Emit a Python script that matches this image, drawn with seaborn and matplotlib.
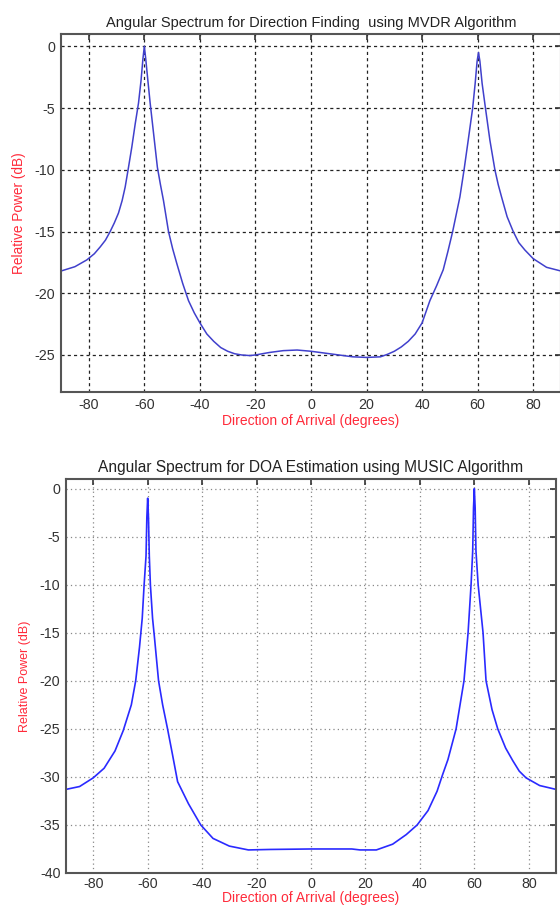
import matplotlib
matplotlib.use("Agg")
import matplotlib.pyplot as plt
import seaborn as sns
import pandas as pd

# ---- data: MVDR angular spectrum (top) ----
mvdr_angle = [-90, -85, -80.7, -78, -75.9, -74, -72.3, -70.8, -69.3, -68, -66.9, -65.7,
              -64.5, -63.3, -62.1, -61.2, -60.5, -60, -59.5, -58.8, -57.9, -56.7, -55.3,
              -54.2, -53.1, -51.3, -49.8, -48.3, -46.2, -44.1, -42, -40, -37.5, -35, -32.5,
              -30, -27.5, -25, -22, -20, -15, -10, -5, 0, 5, 10, 15, 20, 25, 27.5, 30, 32.5,
              35, 37.5, 40, 42.8, 45.2, 47.6, 49.3, 51, 52.3, 53.6, 55.1, 56.6, 58.2, 59.1,
              59.8, 60.3, 60.8, 61.6, 62.8, 64.4, 66.2, 67.4, 68.6, 70.6, 72.8, 74.8, 77, 80,
              84.8, 90]
mvdr_power = [-18.2, -17.85, -17.3, -16.8, -16.25, -15.7, -15.0, -14.3, -13.5, -12.5, -11.4, -9.8,
              -8.15, -6.3, -4.6, -2.8, -1.0, 0.0, -1.0, -2.6, -4.6, -7.0, -9.8,
              -11.2, -12.5, -15.0, -16.4, -17.6, -19.2, -20.6, -21.6, -22.4, -23.3, -23.9, -24.4,
              -24.7, -24.9, -25.0, -25.05, -25.0, -24.8, -24.65, -24.6, -24.7, -24.85, -25.0, -25.15, -25.2, -25.15, -24.95, -24.7, -24.35,
              -23.9, -23.3, -22.4, -20.6, -19.4, -18.1, -16.6, -15.0, -13.6, -12.2, -10.0, -7.6, -5.0, -3.0,
              -1.2, -0.5, -1.2, -3.0, -5.0, -7.6, -10.0, -11.2, -12.2, -13.8, -15.0, -15.9, -16.5, -17.2,
              -17.9, -18.2]

# ---- data: MUSIC angular spectrum (bottom) ----
music_angle = [-90, -85, -80, -76, -72, -69, -66, -64.4, -63, -62, -61.3, -60.6, -60.3, -60,
               -59.7, -59.4, -59, -58.2, -57.5, -56, -54.5, -52.7, -51, -49, -45, -40.5, -36,
               -30, -23, -15, 0, 15, 18, 24, 30, 35, 39, 43, 46.3, 48.3, 50.3, 53.3, 56.2,
               57.7, 58.8, 59.4, 59.7, 60, 60.3, 60.6, 61.4, 63.2, 64.3, 66.5, 68.6, 71.5,
               74.1, 76.5, 79, 84, 90]
music_power = [-31.3, -31.0, -30.1, -29.1, -27.3, -25.2, -22.5, -20.0, -16.5, -13.5, -10.0, -7.0, -3.0, -1.0,
               -3.0, -7.0, -10.0, -13.5, -15.5, -20.0, -22.5, -25.0, -27.5, -30.5, -32.8, -35.0, -36.4,
               -37.2, -37.6, -37.55, -37.5, -37.5, -37.6, -37.6, -37.0, -36.0, -35.0, -33.5, -31.5, -29.8, -28.2, -25.0, -20.0,
               -15.0, -10.0, -6.5, -2.0, 0.0, -2.0, -6.5, -10.0, -15.0, -20.0, -23.0, -25.0, -27.0,
               -28.3, -29.4, -30.1, -30.9, -31.3]

x_ticks = [-80, -60, -40, -20, 0, 20, 40, 60, 80]
top_yticks = [0, -5, -10, -15, -20, -25]
bot_yticks = [0, -5, -10, -15, -20, -25, -30, -35, -40]

sns.set_theme(style="white")
plt.rcParams['font.family'] = ['Liberation Sans', 'DejaVu Sans']

fig = plt.figure(figsize=(5.6, 9.07), dpi=100)
W, H = 560, 907

def ax_at(l, t, r, b):
    return fig.add_axes([l / W, (H - b) / H, (r - l) / W, (b - t) / H])

ax1 = ax_at(61, 34, 561, 392)
ax2 = ax_at(66, 479, 556, 873)

df1 = pd.DataFrame({"angle": mvdr_angle, "power": mvdr_power})
df2 = pd.DataFrame({"angle": music_angle, "power": music_power})

sns.lineplot(data=df1, x="angle", y="power", ax=ax1, sort=False, estimator=None,
             color="#4040cc", linewidth=1.1)
sns.lineplot(data=df2, x="angle", y="power", ax=ax2, sort=False, estimator=None,
             color="#2a2aff", linewidth=1.2)

red = "#ff2a3a"
for ax, yt, ylim, title, gstyle, tfs, lfs, yfs, xpad, lpad in [
        (ax1, top_yticks, (-28, 1), "Angular Spectrum for Direction Finding  using MVDR Algorithm",
         dict(color="#222222", linestyle=(0, (2.5, 2.5)), linewidth=0.9), 10.5, 10, 9.8, 4, 2),
        (ax2, bot_yticks, (-40, 1), "Angular Spectrum for DOA Estimation using MUSIC Algorithm",
         dict(color="#888888", linestyle=(0, (1, 2.5)), linewidth=0.9), 11.2, 10, 9, 3, 0)]:
    ax.set_xlim(-90, 90)
    ax.set_ylim(*ylim)
    ax.set_xticks(x_ticks)
    ax.set_yticks(yt)
    ax.set_xticklabels([str(v) for v in x_ticks])
    ax.set_yticklabels([str(v) for v in yt])
    ax.grid(True, **gstyle)
    ax.set_axisbelow(True)
    ax.tick_params(direction="in", top=True, right=True, length=4, width=1.2,
                   colors="#333333", labelsize=10.3, pad=4)
    ax.tick_params(axis="x", pad=xpad)
    for s in ax.spines.values():
        s.set_color("#555555")
        s.set_linewidth(1.5)
        s.set_visible(True)
    ax.set_title(title, fontsize=tfs, color="#222222", pad=5)
    ax.set_xlabel("Direction of Arrival (degrees)", color=red, fontsize=lfs, labelpad=lpad)
    ax.set_ylabel("Relative Power (dB)", color=red, fontsize=yfs, labelpad=6)

fig.savefig("out.png", dpi=100)
